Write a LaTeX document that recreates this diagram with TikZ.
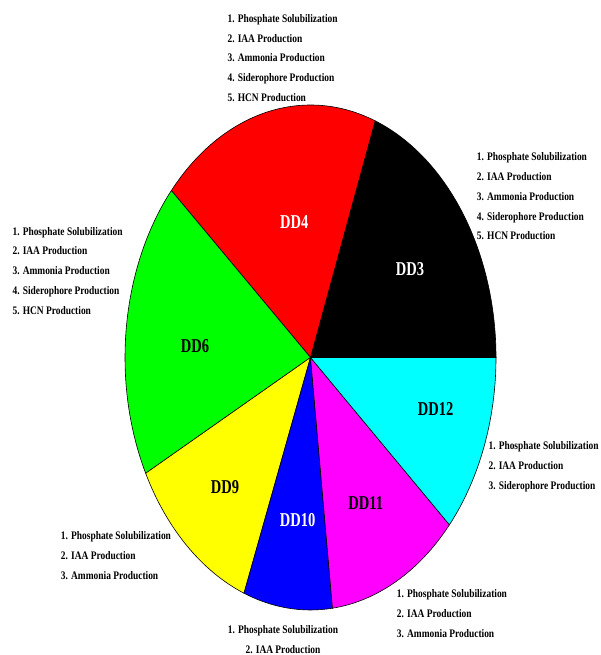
\documentclass[tikz,border=0pt]{standalone}
\usepackage{fontspec}
\setmainfont{Liberation Serif}
\definecolor{pieblack}{RGB}{0,0,0}
\definecolor{piered}{RGB}{255,0,0}
\definecolor{piegreen}{RGB}{0,255,0}
\definecolor{pieyellow}{RGB}{255,255,0}
\definecolor{pieblue}{RGB}{0,0,255}
\definecolor{piemagenta}{RGB}{255,0,255}
\definecolor{piecyan}{RGB}{0,255,255}

\begin{document}
\begin{tikzpicture}[x=1pt, y=1pt, line width=0.6pt]
    \tikzstyle{slice}=[draw=black, x radius=185.5, y radius=252.5]
    \tikzstyle{slicelabel}=[inner sep=0, font=\bfseries\fontsize{19.6}{20}\selectfont,
                            xscale=0.74, transform shape]
    \tikzstyle{traits}=[inner sep=0, align=left, anchor=base west,
                        font=\bfseries\fontsize{11.5}{19.8}\selectfont,
                        xscale=0.82, transform shape]

    \useasboundingbox (0,0) rectangle (600,655);
    \coordinate (O) at (310.5,297.5);

    \path[slice, fill=pieblack]   (O) -- ++(0:185.5 and 252.5)
        arc[start angle=0, end angle=69.6] -- cycle;
    \path[slice, fill=piered]     (O) -- ++(69.6:185.5 and 252.5)
        arc[start angle=69.6, end angle=138.6] -- cycle;
    \path[slice, fill=piegreen]   (O) -- ++(138.6:185.5 and 252.5)
        arc[start angle=138.6, end angle=207.3] -- cycle;
    \path[slice, fill=pieyellow]  (O) -- ++(207.3:185.5 and 252.5)
        arc[start angle=207.3, end angle=249] -- cycle;
    \path[slice, fill=pieblue]    (O) -- ++(249:185.5 and 252.5)
        arc[start angle=249, end angle=276.8] -- cycle;
    \path[slice, fill=piemagenta] (O) -- ++(276.8:185.5 and 252.5)
        arc[start angle=276.8, end angle=318.5] -- cycle;
    \path[slice, fill=piecyan]    (O) -- ++(318.5:185.5 and 252.5)
        arc[start angle=318.5, end angle=360] -- cycle;

    \node[slicelabel, text=white] (DD3)  at (410,386)     {DD3};
    \node[slicelabel, text=white] (DD4)  at (294.3,433.3) {DD4};
    \node[slicelabel]             (DD6)  at (195,309.3)   {DD6};
    \node[slicelabel]             (DD9)  at (225,168.3)   {DD9};
    \node[slicelabel, text=white] (DD10) at (297.7,135)   {DD10};
    \node[slicelabel]             (DD11) at (365.7,152.3) {DD11};
    \node[slicelabel]             (DD12) at (435.7,246)   {DD12};

    % lists are placed by the baseline of their last line
    \node[traits] (DD4list) at (227.3,553.5) {1. Phosphate Solubilization\\2. IAA Production\\3. Ammonia Production\\4. Siderophore Production\\5. HCN Production};
    \node[traits] (DD3list) at (476.7,415) {1. Phosphate Solubilization\\2. IAA Production\\3. Ammonia Production\\4. Siderophore Production\\5. HCN Production};
    \node[traits] (DD6list) at (12.3,340.7) {1. Phosphate Solubilization\\2. IAA Production\\3. Ammonia Production\\4. Siderophore Production\\5. HCN Production};
    \node[traits] (DD12list) at (488.3,165.7) {1. Phosphate Solubilization\\2. IAA Production\\3. Siderophore Production};
    \node[traits] (DD9list) at (60.7,75.7) {1. Phosphate Solubilization\\2. IAA Production\\3. Ammonia Production};
    \node[traits] (DD11list) at (396.7,17.7) {1. Phosphate Solubilization\\2. IAA Production\\3. Ammonia Production};
    \node[traits, align=center, anchor=base] (DD10list) at (283,1.5) {1. Phosphate Solubilization\\2. IAA Production};
\end{tikzpicture}
\end{document}
